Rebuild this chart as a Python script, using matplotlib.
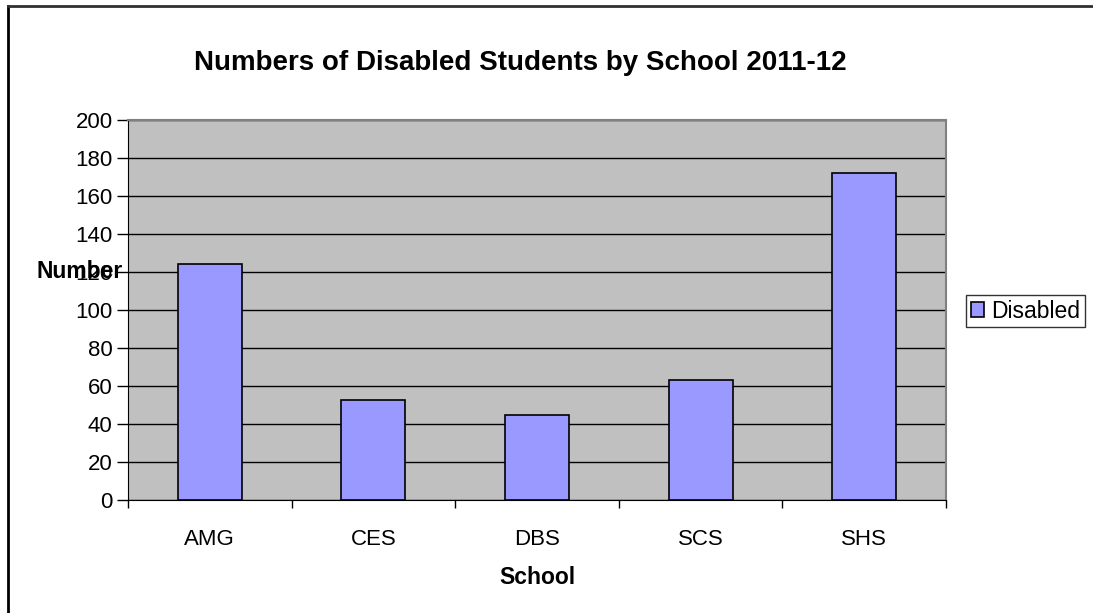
import matplotlib.pyplot as plt
import numpy as np
from matplotlib.lines import Line2D

# Datos
escuelas = ['AMG', 'CES', 'DBS', 'SCS', 'SHS']
discapacitados = [124, 52.5, 45, 63, 172]

plt.rcParams['font.family'] = ['Liberation Sans', 'DejaVu Sans']

W, H = 1093, 613
fig = plt.figure(figsize=(W / 100, H / 100), dpi=100)

# Área del gráfico en píxeles
x0, x1, y0, y1 = 128, 946, 120, 500
ax = fig.add_axes([x0 / W, 1 - y1 / H, (x1 - x0) / W, (y1 - y0) / H])
ax.set_facecolor('#c0c0c0')

pos = np.arange(len(escuelas))
barras = ax.bar(pos, discapacitados, width=0.39, color='#9999ff',
                edgecolor='black', linewidth=1.2, label='Disabled', zorder=3)

ax.set_xlim(-0.5, len(escuelas) - 0.5)
ax.set_ylim(0, 200)
ax.set_yticks(np.arange(0, 201, 20))
ax.yaxis.grid(True, color='black', linewidth=1)
ax.set_axisbelow(True)

ax.set_xticks(pos)
ax.set_xticklabels(escuelas)
ax.set_xticks(np.arange(-0.5, len(escuelas), 1), minor=True)
ax.tick_params(axis='x', which='major', length=0, pad=21, labelsize=16)
ax.tick_params(axis='x', which='minor', length=6, width=1, direction='out')
ax.tick_params(axis='y', length=8, width=1, direction='out', labelsize=16, pad=3)

for lado in ['top', 'right']:
    ax.spines[lado].set_color('#808080')
    ax.spines[lado].set_linewidth(1.5)
ax.spines['left'].set_color('black')
ax.spines['bottom'].set_color('black')

fig.text((x0 + x1) / 2 / W, 1 - 577 / H, 'School', fontsize=16.5,
         fontweight='bold', ha='center', va='center')
fig.text(80 / W, 1 - 271 / H, 'Number', fontsize=16.5, fontweight='bold',
         ha='center', va='center')
fig.text(520 / W, 1 - 63 / H, 'Numbers of Disabled Students by School 2011-12',
         fontsize=20, fontweight='bold', ha='center', va='center')

leg = fig.legend(handles=[barras], labels=['Disabled'], loc='center left',
                 bbox_to_anchor=(966 / W, 1 - 311 / H), fontsize=16.5,
                 frameon=True, fancybox=False, edgecolor='black',
                 handlelength=0.6, handleheight=0.6, handletextpad=0.3,
                 borderpad=0.2, borderaxespad=0)
leg.get_frame().set_linewidth(1)

# Borde exterior (solo se ven el izquierdo y el superior)
fig.add_artist(Line2D([8 / W, 8 / W], [0, 1 - 6 / H], transform=fig.transFigure,
                      color='black', linewidth=2))
fig.add_artist(Line2D([8 / W, 1], [1 - 6 / H, 1 - 6 / H], transform=fig.transFigure,
                      color='#303030', linewidth=2))

plt.savefig('out.png', dpi=100)
